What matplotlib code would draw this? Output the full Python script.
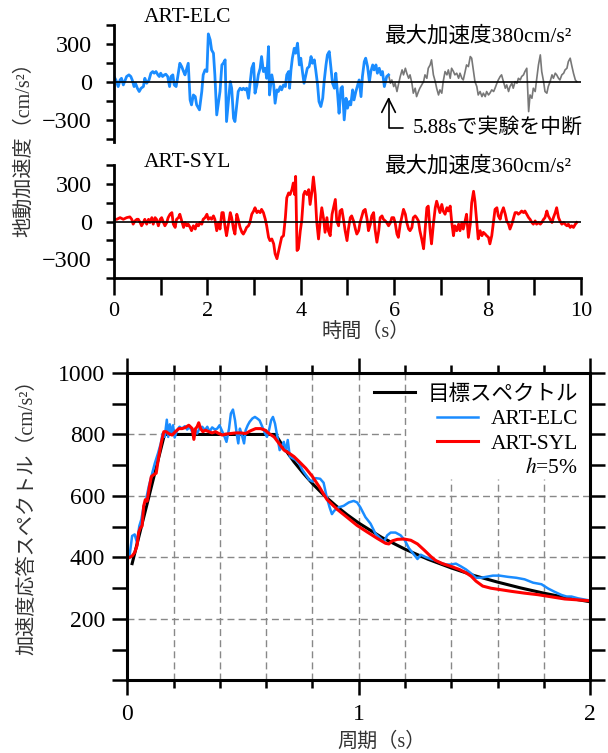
import matplotlib.pyplot as plt
from matplotlib.lines import Line2D

plt.rcParams['font.family'] = ['Liberation Serif', 'Noto Sans CJK JP']
plt.rcParams['mathtext.fontset'] = 'stix'

# ART-ELC 地動加速度 (cm/s2) 0〜5.88s (実験範囲)
elc_t = [0.00, 0.04, 0.09, 0.13, 0.16, 0.20, 0.24, 0.27, 0.32, 0.36,
         0.39, 0.43, 0.46, 0.50, 0.54, 0.58, 0.63, 0.66, 0.70, 0.75,
         0.79, 0.83, 0.86, 0.90, 0.94, 0.97, 1.00, 1.04, 1.08, 1.11,
         1.15, 1.19, 1.22, 1.26, 1.29, 1.33, 1.36, 1.41, 1.45, 1.49,
         1.52, 1.56, 1.59, 1.63, 1.66, 1.70, 1.74, 1.77, 1.83, 1.88,
         1.91, 1.95, 1.99, 2.02, 2.06, 2.09, 2.13, 2.16, 2.20, 2.24,
         2.27, 2.31, 2.34, 2.38, 2.41, 2.45, 2.49, 2.52, 2.56, 2.59,
         2.63, 2.66, 2.70, 2.74, 2.77, 2.81, 2.84, 2.88, 2.91, 2.95,
         2.99, 3.02, 3.06, 3.09, 3.13, 3.16, 3.20, 3.24, 3.27, 3.31,
         3.33,
         3.38, 3.42, 3.45, 3.49, 3.52, 3.56, 3.59, 3.63, 3.67, 3.70,
         3.74, 3.76, 3.79, 3.82, 3.86, 3.89, 3.93, 3.97, 4.00, 4.04,
         4.07, 4.11, 4.14, 4.18, 4.22, 4.25, 4.29, 4.32, 4.36, 4.39,
         4.43, 4.47, 4.50, 4.54, 4.57, 4.61, 4.64, 4.68, 4.72, 4.75,
         4.79, 4.82, 4.86, 4.89, 4.93, 4.97, 5.00, 5.04, 5.07, 5.11,
         5.14, 5.18, 5.22, 5.25, 5.29, 5.32, 5.36, 5.39, 5.43, 5.47,
         5.50, 5.54, 5.57, 5.61, 5.64, 5.68, 5.72, 5.75, 5.79, 5.84,
         5.88]
elc_a = [45, 18, -34, 18, 31, -21, 18, 45, 58, 45,
         18, -34, -8, -47, -73, -47, -34, 31, -8, 18,
         71, 84, 71, 84, 58, 45, 71, 45, 58, 63,
         45, -34, 45, 58, -21, -34, 31, 149, 123, 84,
         58, 110, 149, -139, -178, -100, -113, -178, -217, -73,
         58, 97, 84, 380, 333, 254, 228, 58, -257, -152,
         -73, 136, 149, 176, -309, -152, 5, -47, -283, -309,
         -178, -73, -47, -60, -47, -60, -47, -126, -21, 110,
         149, -86, -21, 58, 110, 202, 84, 110, 31, 280,
         -100,
         58, -21, -165, -60, -73, -34, -60, -21, -34, 58,
         84, -47, 97, 189, 267, 228, 307, 136, 189, 71,
         -8, 58, 110, 123, 202, 149, 176, 97, -21, -152,
         -191, -126, 5, 136, 215, 241, 136, -8, -47, 71,
         -100, -244, -47, -34, -296, -126, -204, -152, -178, -60,
         -139, -73, -21, 18, -113, 45, 162, 189, 123, 5,
         84, 136, 97, 136, 71, 110, 58, 84, -34, 45,
         58]

# ART-ELC 5.88s以降 (未実施部分)
elc_rest_t = [5.88, 5.92, 5.95, 5.99, 6.02, 6.06, 6.09, 6.13, 6.17, 6.20,
              6.24, 6.27, 6.31, 6.34, 6.38, 6.41, 6.45, 6.48, 6.52, 6.55,
              6.59, 6.63, 6.66, 6.70, 6.73, 6.77, 6.80, 6.84, 6.88, 6.91,
              6.95, 6.98, 7.02, 7.05, 7.09, 7.13, 7.16, 7.20, 7.23, 7.27,
              7.30, 7.34, 7.38, 7.41, 7.45, 7.48, 7.52, 7.55, 7.59, 7.63,
              7.66, 7.70, 7.73, 7.77, 7.80, 7.84, 7.88, 7.91, 7.95, 7.98,
              8.02, 8.05, 8.09, 8.13, 8.16, 8.20, 8.23, 8.27, 8.30, 8.34,
              8.38, 8.41, 8.45, 8.48, 8.52, 8.55, 8.59, 8.63, 8.66, 8.70,
              8.73, 8.77, 8.80, 8.84, 8.88, 8.91, 8.95, 8.98, 9.02, 9.05,
              9.09, 9.13, 9.16, 9.20, 9.23, 9.27, 9.30, 9.34, 9.38, 9.41,
              9.45, 9.48, 9.52, 9.55, 9.59, 9.63, 9.66, 9.70, 9.73, 9.77,
              9.80, 9.84, 9.88, 9.91]
elc_rest_a = [58, -8, 18, -34, -8, -73, -21, 45, 97, 58,
              110, 71, 31, 58, -8, -86, -47, -113, -73, -47,
              -21, 5, 58, 31, 110, 136, 176, 58, 5, -47,
              -100, -60, -86, 5, 84, 58, 97, 31, 110, 84,
              58, 71, 31, 71, 31, 18, 84, 136, 123, 202,
              189, 84, 5, -34, -100, -73, -113, -86, -113, -73,
              -100, -86, -60, -73, -47, -8, 18, 45, 58, 5,
              -47, -21, -73, -34, -8, -47, 5, -8, 31, 18,
              45, 58, 84, 110, -231, -100, -126, -47, -73, 18,
              136, 215, 84, 5, -73, -86, -34, 5, 58, 31,
              71, 58, 31, 18, 58, 71, 97, 110, 162, 189,
              136, 71, 18, 5]

# ART-SYL 地動加速度 (cm/s2)
syl_t = [0.00, 0.06, 0.13, 0.20, 0.27, 0.34, 0.38, 0.41, 0.45, 0.49,
         0.52, 0.56, 0.59, 0.63, 0.66, 0.70, 0.74, 0.77, 0.81, 0.84,
         0.88, 0.91, 0.95, 0.99, 1.02, 1.06, 1.09, 1.13, 1.16, 1.20,
         1.24, 1.27, 1.31, 1.34, 1.38, 1.41, 1.45, 1.49, 1.52, 1.56,
         1.59, 1.63, 1.66, 1.70, 1.74, 1.77, 1.81, 1.84, 1.88, 1.91,
         1.95, 1.99, 2.02, 2.06, 2.09, 2.13, 2.16, 2.20, 2.24, 2.27,
         2.31, 2.34, 2.38, 2.41, 2.45, 2.49, 2.52, 2.56, 2.59, 2.63,
         2.66, 2.70, 2.74, 2.77, 2.81, 2.84, 2.88, 2.91, 2.95, 2.99,
         3.02, 3.06, 3.09, 3.13, 3.16, 3.20, 3.24, 3.27, 3.31, 3.34,
         3.38, 3.42, 3.45, 3.49, 3.52, 3.56, 3.59, 3.63, 3.67, 3.70,
         3.74, 3.77, 3.81, 3.84, 3.87, 3.89, 3.92, 3.95, 3.99, 4.02,
         4.06, 4.09, 4.13, 4.17, 4.20, 4.24, 4.27, 4.31, 4.34, 4.38,
         4.42, 4.45, 4.49, 4.52, 4.56, 4.59, 4.63, 4.67, 4.70, 4.74,
         4.77, 4.81, 4.84, 4.88, 4.92, 4.95, 4.99, 5.02, 5.06, 5.09,
         5.13, 5.17, 5.20, 5.24, 5.27, 5.31, 5.34, 5.38, 5.42, 5.45,
         5.49, 5.52, 5.56, 5.59, 5.63, 5.67, 5.70, 5.74, 5.77, 5.81,
         5.84, 5.88, 5.92, 5.95, 5.99, 6.02, 6.06, 6.09, 6.13, 6.17,
         6.20, 6.24, 6.27, 6.31, 6.34,
         6.38, 6.41, 6.45, 6.48, 6.52, 6.55, 6.59, 6.63, 6.66, 6.70,
         6.73, 6.77, 6.80, 6.84, 6.88, 6.91, 6.95, 6.98, 7.02, 7.05,
         7.09, 7.13, 7.16, 7.20, 7.23, 7.27, 7.30, 7.34, 7.38, 7.41,
         7.45, 7.48, 7.52, 7.55, 7.59, 7.63, 7.66, 7.70, 7.73, 7.77,
         7.80, 7.84, 7.88, 7.91, 7.95, 7.98, 8.02, 8.05, 8.09, 8.13,
         8.16, 8.20, 8.23, 8.27, 8.30, 8.34, 8.38, 8.41, 8.45, 8.48,
         8.52, 8.55, 8.59, 8.63, 8.66, 8.70, 8.73, 8.77, 8.80, 8.84,
         8.88, 8.91, 8.95, 8.98, 9.02, 9.05, 9.09, 9.13, 9.16, 9.20,
         9.23, 9.27, 9.30, 9.34, 9.38, 9.41, 9.45, 9.48, 9.52, 9.55,
         9.59, 9.63, 9.66, 9.70, 9.73, 9.77, 9.80, 9.84, 9.88, 9.91]
syl_a = [18, 18, 31, 18, 31, 37, 18, -21, 5, 18,
         18, -8, -34, -8, 18, -21, 18, -8, 31, -21,
         31, 18, -34, 18, 31, -8, -34, -8, 31, 58,
         71, -21, -47, 18, 31, 58, 5, -47, -8, -34,
         -21, -47, -73, -34, -60, -21, -34, -8, -21, 18,
         31, 58, 18, 31, 18, 45, 18, -73, -8, -60,
         71, 71, -47, -113, -21, 71, 31, -60, -100, 58,
         18, -47, -86, -100, -73, -47, -34, -8, 58, 84,
         110, 71, 84, 71, 97, 71, 18, -34, -126, -152,
         -139, -178, -257, -296, -244, -178, -126, -113, 31, 189,
         228, 215, 254, 307, 215, 360, -231, -217, -73, 5,
         215, 241, 215, 254, 136, 241, 355, 215, 5, -139,
         18, 110, 18, -86, 31, -73, -113, 58, 110, 176,
         5, -34, 84, 97, 5, -73, -152, -60, 31, 45,
         5, -60, -100, -73, -8, 45, 84, 97, 18, -73,
         -21, 45, 71, -60, -165, -73, 31, 45, 18, 5,
         -8, -34, -8, 31, 31, -8, -100, -126, -21, 45,
         97, 58, -8, -60, -73,
         -47, 31, 45, 31, 5, -73, -139, -217, -73, 110,
         123, -73, -178, -21, 110, 162, 110, 71, 136, 84,
         58, 110, 84, 123, 5, -113, -34, -73, -21, -73,
         -8, -60, 5, 58, -126, -21, 149, 241, 162, -8,
         -139, -73, -113, -86, -100, -113, -126, -178, -113, 5,
         97, 110, 45, 18, 71, 110, 58, 5, -21, -60,
         -21, 18, 71, 71, 58, 71, 84, 71, 84, 58,
         31, 18, -8, -21, 5, -21, -8, -21, -8, 18,
         31, 84, 45, 18, -8, 31, 71, 110, 31, 5,
         -21, -8, -21, -34, -21, -47, -34, -47, -21, -8]

# 加速度応答スペクトル (h=5%)
target_T = [0.02, 0.16, 0.64, 0.68, 0.72, 0.76, 0.80, 0.85, 0.90, 0.95, 1.00,
            1.10, 1.20, 1.30, 1.40, 1.50, 1.60, 1.70, 1.80, 1.90, 2.00]
target_S = [380, 800, 800, 753, 711, 674, 640, 602, 569, 539, 512,
            465, 427, 394, 366, 341, 320, 301, 284, 269, 256]

elc_T = [0.008, 0.02, 0.031, 0.041, 0.051, 0.06, 0.07, 0.08, 0.092, 0.103,
         0.118, 0.132, 0.144, 0.152, 0.161, 0.17, 0.176, 0.183, 0.19, 0.197,
         0.204, 0.215, 0.225, 0.236, 0.248, 0.258, 0.268, 0.28, 0.291, 0.301,
         0.311, 0.323, 0.335, 0.345, 0.355, 0.366, 0.378, 0.388, 0.398, 0.41,
         0.42, 0.428, 0.439, 0.447, 0.456, 0.465, 0.472, 0.479, 0.486, 0.493,
         0.504, 0.511, 0.52, 0.528, 0.54, 0.551, 0.561, 0.571, 0.583, 0.595,
         0.603, 0.612, 0.621, 0.629, 0.638, 0.648, 0.658, 0.667, 0.676, 0.684,
         0.693, 0.702, 0.713, 0.728, 0.742, 0.756, 0.771, 0.785, 0.80, 0.814,
         0.833, 0.848, 0.862, 0.874, 0.884, 0.894, 0.913, 0.935, 0.957, 0.978,
         0.993, 1.007, 1.029, 1.051, 1.072, 1.094, 1.109, 1.123, 1.138, 1.159,
         1.181, 1.199, 1.217, 1.239, 1.254, 1.268, 1.29, 1.312, 1.333, 1.355,
         1.377, 1.399, 1.42, 1.442, 1.464, 1.486, 1.507, 1.529, 1.551, 1.58,
         1.609, 1.645, 1.681, 1.717, 1.754, 1.79, 1.819, 1.848, 1.877, 1.899,
         1.92, 1.949, 1.978, 2.0]
elc_S = [400, 470, 475, 448, 502, 524, 567, 588, 631, 663,
         706, 739, 771, 803, 792, 848, 792, 833, 803, 830,
         790, 814, 825, 819, 827, 816, 825, 809, 816, 803,
         819, 825, 814, 825, 809, 823, 816, 819, 830, 809,
         792, 776, 819, 868, 881, 846, 803, 771, 819, 803,
         771, 814, 830, 841, 852, 857, 852, 846, 825, 803,
         792, 814, 846, 857, 835, 792, 749, 760, 776, 744,
         782, 728, 723, 717, 706, 685, 669, 653, 647, 658,
         656, 643, 595, 563, 541, 552, 563, 568, 579, 584,
         579, 563, 531, 510, 478, 462, 451, 472, 481, 481,
         472, 456, 430, 409, 395, 409, 401, 395, 390, 382,
         377, 377, 380, 371, 361, 348, 334, 334, 337, 341,
         341, 337, 334, 329, 318, 313, 299, 288, 278, 273,
         273, 267, 263, 260]

syl_T = [0.008, 0.02, 0.031, 0.041, 0.048, 0.056, 0.063, 0.07, 0.077, 0.085,
         0.095, 0.103, 0.113, 0.124, 0.135, 0.147, 0.157, 0.167, 0.178, 0.193,
         0.207, 0.222, 0.236, 0.251, 0.265, 0.272, 0.28, 0.287, 0.294, 0.301,
         0.308, 0.316, 0.326, 0.337, 0.352, 0.366, 0.381, 0.395, 0.41, 0.424,
         0.446, 0.468, 0.489, 0.511, 0.532, 0.554, 0.576, 0.595, 0.612, 0.634,
         0.655, 0.677, 0.699, 0.72, 0.742, 0.771, 0.80, 0.829, 0.862, 0.906,
         0.949, 0.993, 1.036, 1.08, 1.116, 1.13, 1.145, 1.167, 1.196, 1.225,
         1.254, 1.283, 1.312, 1.333, 1.362, 1.399, 1.435, 1.464, 1.486, 1.507,
         1.536, 1.572, 1.616, 1.659, 1.717, 1.775, 1.833, 1.891, 1.949, 2.0]
syl_S = [400, 405, 416, 438, 481, 497, 502, 567, 588, 583,
         631, 663, 669, 674, 728, 776, 809, 809, 803, 798,
         809, 819, 819, 823, 830, 825, 819, 784, 819, 825,
         838, 819, 809, 814, 809, 805, 809, 803, 798, 801,
         803, 805, 805, 803, 812, 819, 819, 814, 803, 792,
         771, 749, 739, 728, 712, 690, 663, 630, 589, 557,
         531, 504, 483, 462, 446, 444, 454, 459, 460, 456,
         444, 424, 403, 390, 380, 371, 361, 350, 339, 323,
         307, 300, 295, 290, 284, 279, 272, 265, 262, 259]

acc_ticks = [-300, 0, 300]
acc_minor = [-450, -150, 150, 450]
time_ticks = [0, 2, 4, 6, 8, 10]
time_minor = [1, 3, 5, 7, 9]
period_ticks = [0, 1, 2]
period_minor = [0.2, 0.4, 0.6, 0.8, 1.2, 1.4, 1.6, 1.8]
spec_ticks = [0, 100, 200, 300, 400, 500, 600, 700, 800, 900, 1000]
spec_ticklabels = ['', '', '200', '', '400', '', '600', '', '800', '', '1000']
grid_x = [0.2, 0.4, 0.6, 0.8, 1.0, 1.2, 1.4, 1.6, 1.8]
grid_y = [200, 400, 600, 800]

BLUE = '#1a8cff'
RED = '#ff0000'
GRAY = '#777777'

fig = plt.figure(figsize=(6.08, 7.53), dpi=100)
ax1 = fig.add_axes([0.1875, 0.8114, 0.768, 0.1554])
ax2 = fig.add_axes([0.1875, 0.6308, 0.768, 0.1500])
ax3 = fig.add_axes([0.2097, 0.0963, 0.7607, 0.4084])

# --- 時刻歴 ---
for ax in (ax1, ax2):
    ax.set_xlim(0, 10)
    ax.spines['top'].set_visible(False)
    ax.spines['right'].set_visible(False)
    ax.spines['left'].set_linewidth(2.0)
    ax.axhline(0, color='black', lw=1.2, zorder=3)
    ax.set_yticks(acc_ticks)
    ax.set_yticks(acc_minor, minor=True)
    ax.tick_params(axis='y', which='both', direction='out', length=6,
                   width=1.8, pad=10, labelsize=17.5)

ax1.plot(elc_rest_t, elc_rest_a, color=GRAY, lw=1.2, zorder=2)
ax1.plot(elc_t, elc_a, color=BLUE, lw=2.0, zorder=2)
ax1.set_ylim(-470, 450)
ax1.spines['bottom'].set_visible(False)
ax1.tick_params(axis='x', bottom=False, labelbottom=False)

ax2.plot(syl_t, syl_a, color=RED, lw=2.0, zorder=2)
ax2.set_ylim(-450, 450)
ax2.spines['bottom'].set_linewidth(2.0)
ax2.set_xticks(time_ticks)
ax2.set_xticks(time_minor, minor=True)
ax2.tick_params(axis='x', which='both', direction='out', length=12,
                width=1.8, pad=5, labelsize=16)

ax1.text(0.064, 1.06, 'ART-ELC', transform=ax1.transAxes, fontsize=15.5,
         va='center', ha='left')
ax1.text(0.58, 0.90, '最大加速度380cm/s²', transform=ax1.transAxes,
         fontsize=15.5, va='center', ha='left')
ax2.text(0.064, 1.02, 'ART-SYL', transform=ax2.transAxes, fontsize=15.5,
         va='center', ha='left')
ax2.text(0.58, 0.985, '最大加速度360cm/s²', transform=ax2.transAxes,
         fontsize=15.5, va='center', ha='left')
ax1.annotate('5.88sで実験を中断', xy=(5.88, -115), xytext=(6.40, -360),
             fontsize=15, va='center', ha='left', annotation_clip=False,
             arrowprops=dict(arrowstyle='->,head_length=0.7,head_width=0.35',
                             connectionstyle='angle,angleA=0,angleB=90,rad=0',
                             color='black', lw=1.2, shrinkA=5, shrinkB=0,
                             mutation_scale=14))

fig.text(24 / 608, 1 - 145 / 753, '地動加速度（cm/s²）', rotation=90,
         fontsize=14.5, ha='center', va='center', color='#333333')
fig.text(366 / 608, 1 - 332 / 753, '時間（s）', fontsize=14.5,
         ha='center', va='center', color='#333333')

# --- 応答スペクトル ---
ax3.set_xlim(0, 2)
ax3.set_ylim(0, 1000)
for sp in ax3.spines.values():
    sp.set_linewidth(2.2)
    sp.set_zorder(5)

for gx in grid_x:
    top = 0.655 if gx > 1.3 else 1.0
    ax3.axvline(gx, ymax=top, color='#888888', lw=1.0, ls=(0, (5, 3)), zorder=1)
for gy in grid_y:
    right = 0.6 if gy == 800 else 1.0
    ax3.axhline(gy, xmax=right, color='#888888', lw=1.0, ls=(0, (5, 3)), zorder=1)

l_tgt, = ax3.plot(target_T, target_S, color='black', lw=2.2, zorder=3)
l_elc, = ax3.plot(elc_T, elc_S, color=BLUE, lw=1.8, zorder=3)
l_syl, = ax3.plot(syl_T, syl_S, color=RED, lw=2.2, zorder=4)

ax3.set_xticks(period_ticks)
ax3.set_xticks(period_minor, minor=True)
ax3.set_yticks(spec_ticks)
ax3.set_yticklabels(spec_ticklabels)
ax3.tick_params(which='both', direction='out', top=True, right=True,
                width=1.8, labelsize=17)
ax3.tick_params(axis='x', which='major', length=11, pad=6)
ax3.tick_params(axis='x', which='minor', length=6)
ax3.tick_params(axis='y', length=11, pad=5)

blank = Line2D([], [], color='none')
leg = ax3.legend([l_tgt, l_elc, l_syl, blank],
                 ['目標スペクトル', 'ART-ELC', 'ART-SYL', '$h$=5%'],
                 loc='upper right', fontsize=15.5, frameon=False,
                 handlelength=1.9, handletextpad=0.6, labelspacing=0.2,
                 borderpad=0.3, borderaxespad=0.25)
leg._legend_handle_box.get_children()[0].align = 'right'

fig.text(28 / 608, 1 - 512 / 753, '加速度応答スペクトル（cm/s²）', rotation=90,
         fontsize=14.5, ha='center', va='center', color='#333333')
fig.text(382 / 608, 1 - 742 / 753, '周期（s）', fontsize=14.5,
         ha='center', va='center', color='#333333')

fig.savefig('out.png', dpi=100)
